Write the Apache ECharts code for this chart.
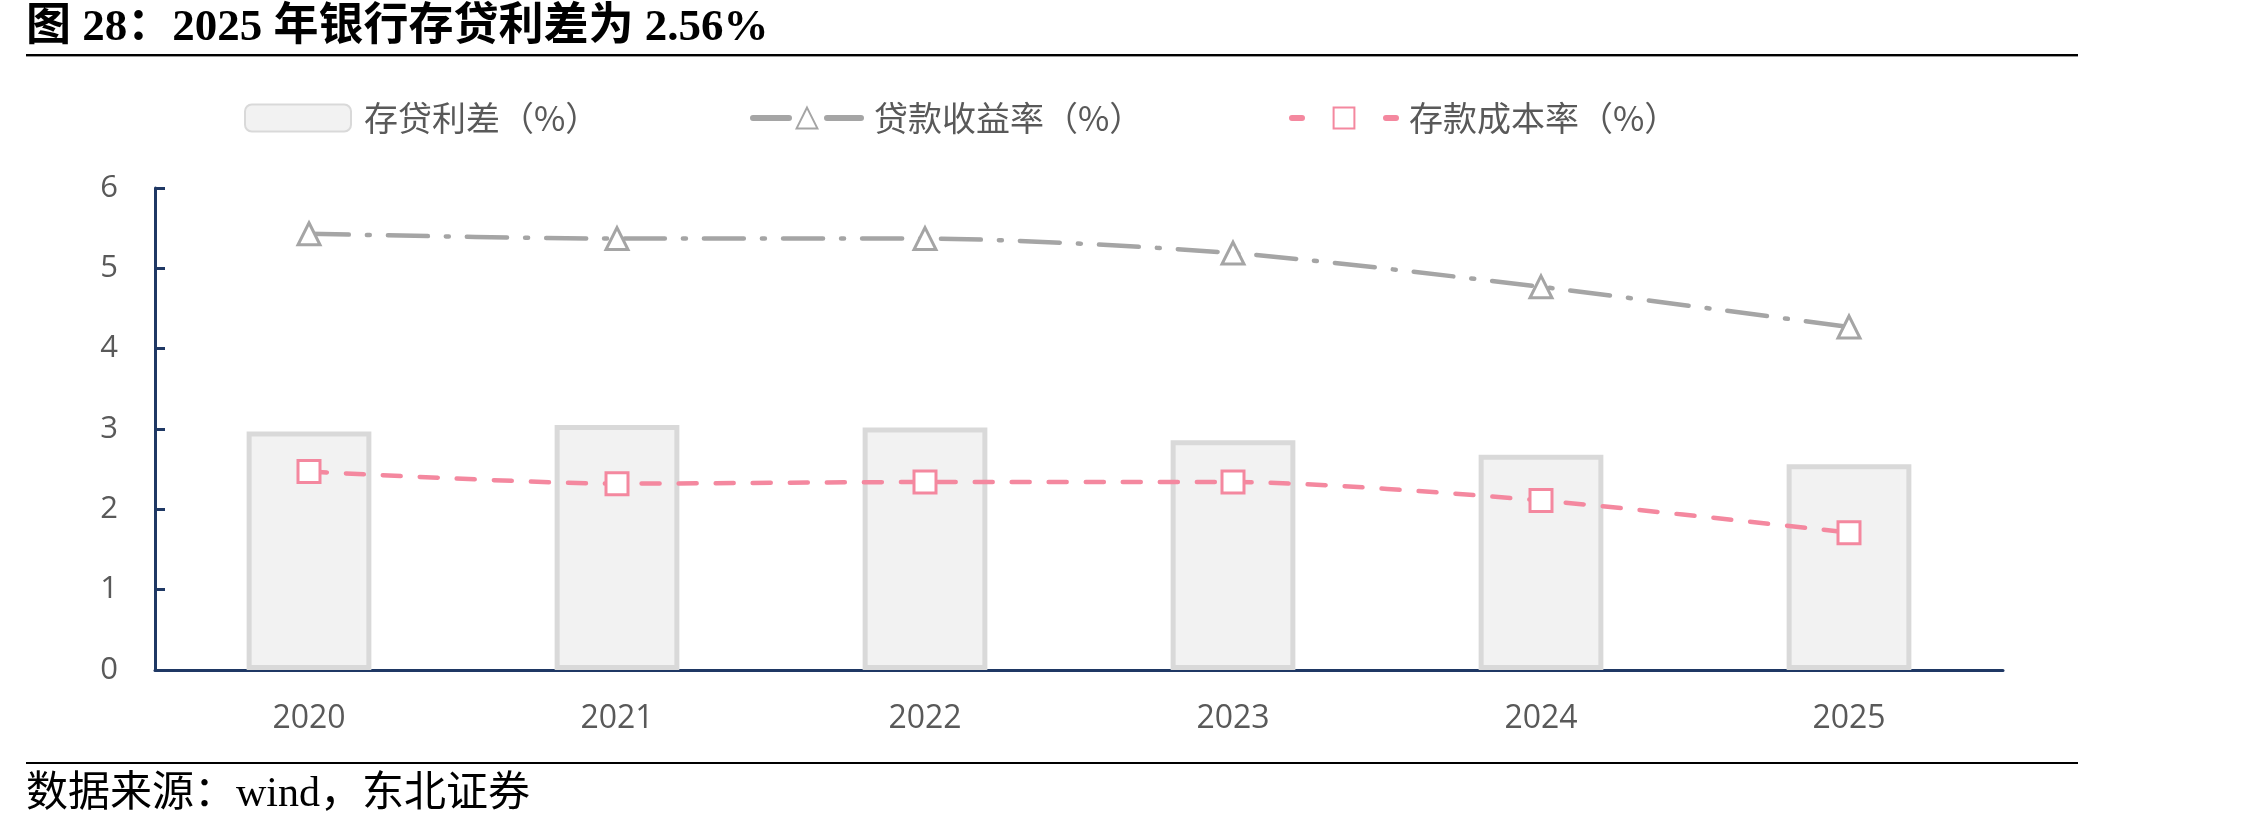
<!DOCTYPE html>
<html><head><meta charset="utf-8">
<script src="https://cdn.jsdelivr.net/npm/echarts@6/dist/echarts.min.js"></script>
<style>html,body{margin:0;padding:0;background:#fff;}#c{width:2268px;height:832px;}</style>
</head><body><div id="c"></div>
<script>
const categories = ['2020','2021','2022','2023','2024','2025'];
const spread = [2.97, 3.05, 3.02, 2.86, 2.68, 2.56];
const loanYield = [5.43, 5.37, 5.37, 5.19, 4.77, 4.27];
const depositCost = [2.47, 2.32, 2.34, 2.34, 2.11, 1.71];
const yTicks = [0, 1, 2, 3, 4, 5, 6];
const seriesNames = ['存贷利差（%）', '贷款收益率（%）', '存款成本率（%）'];
const titleText = '图 28：2025 年银行存贷利差为 2.56%';
const sourceText = '数据来源：wind，东北证券';

const chart = echarts.init(document.getElementById('c'));
const navy = '#1F3864';
const legendText = {color:'#595959', fontSize:34, fontFamily:'"Noto Sans CJK SC", sans-serif', padding:[0,0,0,8]};
chart.setOption({
  backgroundColor:'#fff',
  animation:false,
  graphic:[
    {type:'text', left:26, top:6, style:{text:titleText, font:'bold 45px "Liberation Serif", "Noto Sans CJK SC", serif', fill:'#000'}},
    {type:'rect', shape:{x:26, y:54, width:2052, height:2}, style:{fill:'#000'}},
    {type:'rect', shape:{x:26, y:56, width:2052, height:1}, style:{fill:'#999'}},
    {type:'rect', shape:{x:26, y:762, width:2052, height:2}, style:{fill:'#000'}},
    {type:'text', left:26, top:774, style:{text:sourceText, font:'42px "Liberation Serif", "Noto Sans CJK SC", serif', fill:'#000'}}
  ],
  legend:[
    {left:239, top:96, itemWidth:106, itemHeight:27, textStyle:legendText,
     data:[{name:seriesNames[0]}]},
    {left:745, top:96, itemWidth:108, itemHeight:26, textStyle:legendText,
     data:[{name:seriesNames[1], lineStyle:{type:[36,38], width:6, cap:'round'}}]},
    {left:1284, top:96, itemWidth:104, itemHeight:26, textStyle:legendText,
     data:[{name:seriesNames[2], lineStyle:{type:[10,84], width:6, cap:'round'}}]}
  ],
  grid:{left:155, right:265, top:188, bottom:162, containLabel:false},
  xAxis:{
    type:'category', data:categories, boundaryGap:true,
    axisLine:{lineStyle:{color:navy, width:3}},
    axisTick:{inside:true, length:10, lineStyle:{color:navy, width:3}},
    axisLabel:{color:'#595959', fontSize:32, margin:33, fontFamily:'"Open Sans", sans-serif'}
  },
  yAxis:{
    type:'value', min:yTicks[0], max:yTicks[yTicks.length-1], interval:1,
    splitLine:{show:false},
    axisLine:{show:true, lineStyle:{color:navy, width:3}},
    axisTick:{show:true, inside:true, length:10, lineStyle:{color:navy, width:3}},
    axisLabel:{color:'#595959', fontSize:31, margin:37, fontFamily:'"Open Sans", sans-serif'}
  },
  series:[
    {name:seriesNames[0], type:'bar', data:spread, barWidth:'40.5%',
     itemStyle:{color:'#F2F2F2', borderColor:'#D9D9D9', borderWidth:5}},
    {name:seriesNames[1], type:'line', data:loanYield, smooth:0.25,
     symbol:'triangle', symbolSize:[22,22], showAllSymbol:true,
     itemStyle:{color:'#fff', borderColor:'#A5A5A5', borderWidth:3},
     lineStyle:{color:'#A5A5A5', width:4.5, type:[40,18,3,18], cap:'round'}, z:3},
    {name:seriesNames[2], type:'line', data:depositCost, smooth:0.25,
     symbol:'rect', symbolSize:22, showAllSymbol:true,
     itemStyle:{color:'#fff', borderColor:'#F4889F', borderWidth:3},
     lineStyle:{color:'#F4889F', width:4.5, type:[18,19], cap:'round'}, z:4}
  ]
});
</script></body></html>
